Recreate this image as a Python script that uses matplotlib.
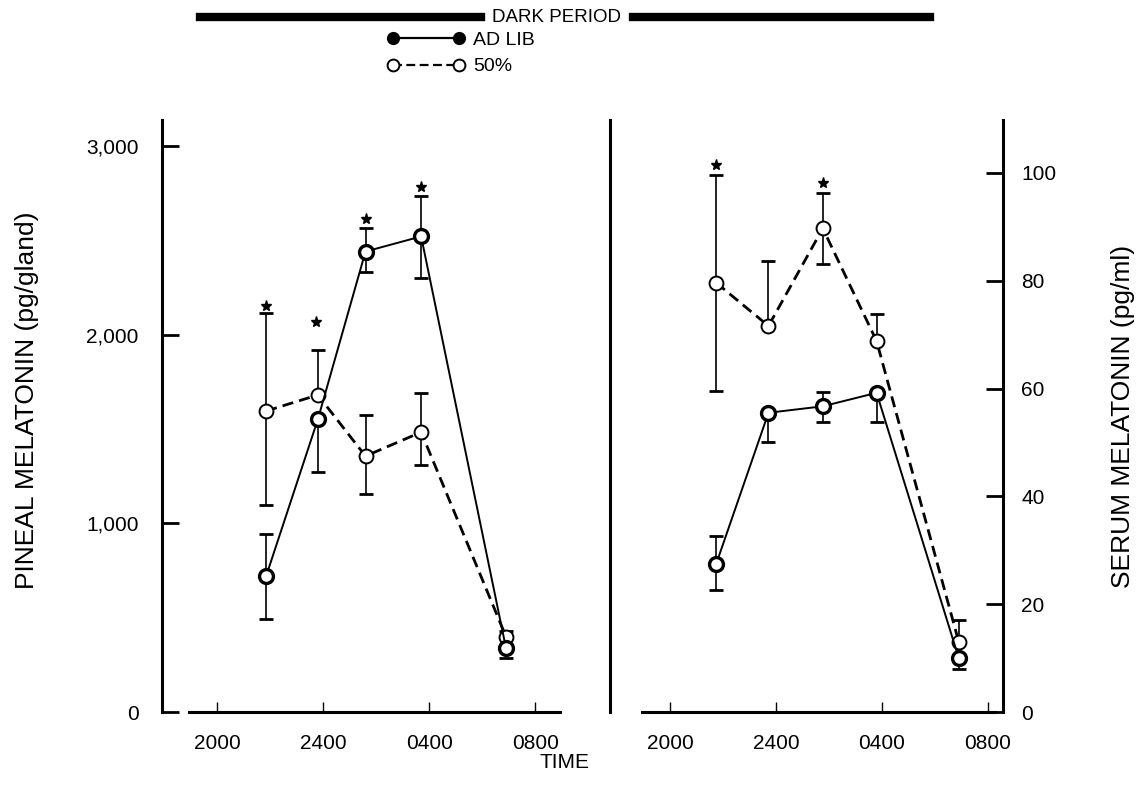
import numpy as np
import matplotlib.pyplot as plt
from matplotlib.lines import Line2D

plt.rcParams['font.family'] = ['Liberation Sans', 'DejaVu Sans']

# hours after 2000
tick_pos = [0, 4, 8, 12]
tick_labels = ['2000', '2400', '0400', '0800']

# PINEAL (pg/gland)
pin_t = [1.85, 3.8, 5.6, 7.7, 10.9]
pin_adlib = [720, 1550, 2440, 2520, 340]
pin_adlib_lo = [227, 280, 106, 222, 55]
pin_adlib_hi = [225, 0, 127, 216, 0]
pin_half = [1595, 1680, 1356, 1483, 400]
pin_half_lo = [500, 0, 200, 175, 0]
pin_half_hi = [517, 240, 217, 206, 30]
pin_star_t = [1.85, 3.75, 5.6, 7.7]
pin_star_y = [2153, 2069, 2612, 2780]

# SERUM (pg/ml)
ser_t = [1.75, 3.72, 5.77, 7.8, 10.9]
ser_adlib = [27.5, 55.5, 56.7, 59.2, 10]
ser_adlib_lo = [4.8, 5.5, 2.9, 5.4, 2]
ser_adlib_hi = [5.1, 0, 2.7, 0, 0]
ser_half = [79.6, 71.6, 89.7, 68.8, 13]
ser_half_lo = [20, 0, 6.6, 0, 0]
ser_half_hi = [20, 12, 6.6, 5, 4]
ser_star_t = [1.75, 5.77]
ser_star_y = [101.4, 98.2]

W, H = 1148, 797
fig = plt.figure(figsize=(W / 100, H / 100), dpi=100)


def fx(px):
    return px / W


def fy(py):
    return 1 - py / H


ax1 = fig.add_axes([fx(162), fy(712), fx(560) - fx(162), fy(120) - fy(712)])
ax2 = fig.add_axes([fx(610), fy(712), fx(1003) - fx(610), fy(120) - fy(712)])


def panel(ax, t, ad, ad_lo, ad_hi, half, half_lo, half_hi, st_t, st_y):
    ax.errorbar(t, ad, yerr=[ad_lo, ad_hi], fmt='none', ecolor='black',
                elinewidth=1.2, capsize=5, capthick=2, zorder=2)
    ax.errorbar(t, half, yerr=[half_lo, half_hi], fmt='none', ecolor='black',
                elinewidth=1.2, capsize=5, capthick=2, zorder=2)
    ax.plot(t, ad, '-', color='black', lw=1.4, marker='o', ms=10,
            mfc='white', mec='black', mew=2.4, zorder=4)
    ax.plot(t, half, color='black', lw=2.0, dashes=(4, 2.2), marker='o', ms=10,
            mfc='white', mec='black', mew=1.4, zorder=3)
    ax.plot(st_t, st_y, linestyle='none', marker='*', ms=8, color='black')
    ax.set_xticks(tick_pos)
    ax.set_xticklabels(tick_labels)
    ax.tick_params(axis='x', direction='in', length=7, width=1, labelsize=15, pad=16)
    ax.spines['top'].set_visible(False)
    for s in ax.spines.values():
        s.set_linewidth(2.2)


panel(ax1, pin_t, pin_adlib, pin_adlib_lo, pin_adlib_hi,
      pin_half, pin_half_lo, pin_half_hi, pin_star_t, pin_star_y)
panel(ax2, ser_t, ser_adlib, ser_adlib_lo, ser_adlib_hi,
      ser_half, ser_half_lo, ser_half_hi, ser_star_t, ser_star_y)

# left panel
ax1.set_xlim(-2.08, 12.94)
ax1.set_ylim(0, 3137)
ax1.spines['right'].set_visible(False)
ax1.spines['bottom'].set_bounds(-1.06, 12.94)
ax1.set_yticks([0, 1000, 2000, 3000])
ax1.set_yticklabels(['0', '1,000', '2,000', '3,000'])
ax1.tick_params(axis='y', direction='in', length=12, width=2, labelsize=15, pad=17)
ax1.set_ylabel('PINEAL MELATONIN (pg/gland)', fontsize=19)
ax1.yaxis.set_label_coords(-0.31, 0.527)

# right panel
ax2.set_xlim(-2.26, 12.57)
ax2.set_ylim(0, 109.8)
ax2.spines['bottom'].set_bounds(-1.06, 12.26)
ax2.yaxis.tick_right()
ax2.yaxis.set_label_position('right')
ax2.set_yticks([0, 20, 40, 60, 80, 100])
ax2.tick_params(axis='y', direction='in', length=12, width=2, labelsize=15, pad=13)
ax2.set_ylabel('SERUM MELATONIN (pg/ml)', fontsize=19, rotation=90)
ax2.yaxis.set_label_coords(1.275, 0.50)

fig.text(fx(565), fy(763), 'TIME', fontsize=15, ha='center', va='center')

# dark period bar
fig.add_artist(Line2D([fx(200), fx(481)], [fy(17), fy(17)], color='black', lw=6))
fig.add_artist(Line2D([fx(633), fx(930)], [fy(17), fy(17)], color='black', lw=6))
fig.text(fx(557), fy(17), 'DARK PERIOD', fontsize=13.5, ha='center', va='center')

# legend
handles = [
    Line2D([], [], color='black', lw=1.6, marker='o', ms=8.5, mfc='black', mec='black'),
    Line2D([], [], color='black', lw=1.6, dashes=(4, 2), marker='o', ms=8.5,
           mfc='white', mec='black', mew=1.4),
]
fig.legend(handles, ['AD LIB', '50%'], loc='upper left',
           bbox_to_anchor=(fx(370), fy(14)), frameon=False, fontsize=14,
           handlelength=4.0, numpoints=2, labelspacing=0.45, handletextpad=0.4)

fig.savefig('out.png', dpi=100)
